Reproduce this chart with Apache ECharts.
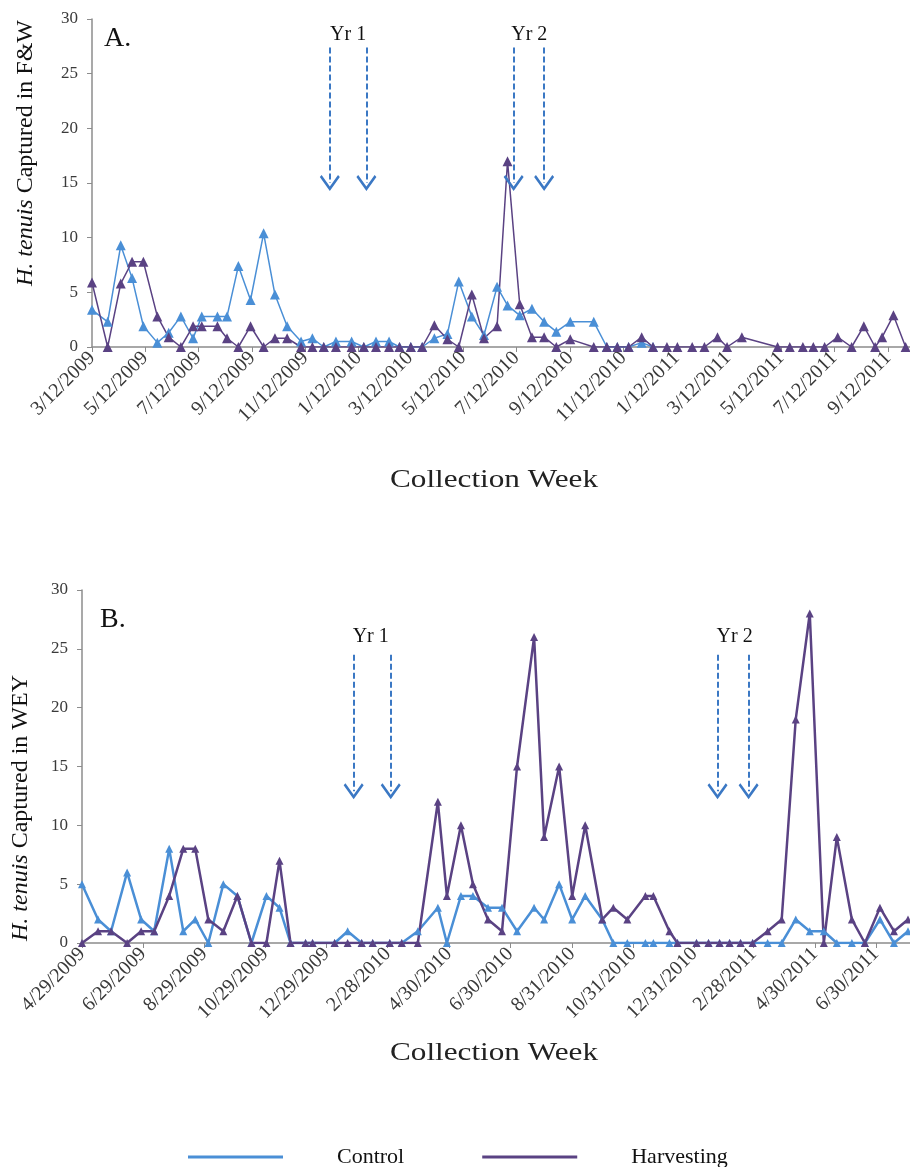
<!DOCTYPE html>
<html><head><meta charset="utf-8">
<script src="https://cdn.jsdelivr.net/npm/echarts@6/dist/echarts.min.js"></script>
<style>html,body{margin:0;padding:0;background:#fff}#c{width:910px;height:1167px}</style>
</head><body><div id="c"></div>
<script>
// ---------- Panel A (F&W) ----------
const datesA = ['2009-03-12','2009-03-30','2009-04-14','2009-04-27','2009-05-10','2009-05-26','2009-06-08','2009-06-22','2009-07-06','2009-07-16','2009-08-03','2009-08-14','2009-08-27','2009-09-10','2009-09-25','2009-10-08','2009-10-22','2009-11-07','2009-11-20','2009-12-03','2009-12-17','2010-01-04','2010-01-18','2010-02-01','2010-02-16','2010-02-28','2010-03-13','2010-03-26','2010-04-09','2010-04-24','2010-05-07','2010-05-22','2010-06-05','2010-06-20','2010-07-02','2010-07-16','2010-07-30','2010-08-13','2010-08-27','2010-09-12','2010-10-09','2010-10-24','2010-11-05','2010-11-18','2010-12-03','2010-12-16','2011-01-01','2011-01-13','2011-01-30','2011-02-13','2011-02-28','2011-03-11','2011-03-28','2011-05-08','2011-05-22','2011-06-06','2011-06-18','2011-07-01','2011-07-16','2011-08-01','2011-08-15','2011-08-28','2011-09-05','2011-09-18','2011-10-02'];
const controlA = [3.4,2.3,9.3,6.3,1.9,0.4,1.3,2.8,0.8,2.8,2.8,2.8,7.4,4.3,10.4,4.8,1.9,0.5,0.8,0,0.5,0.5,0,0.5,0.5,0,0,0,0.8,1.2,6,2.8,1.1,5.5,3.8,2.9,3.5,2.3,1.4,2.3,2.3,0,0,0,0.4,0];
const harvestA = [5.9,0,5.8,7.8,7.8,2.8,0.9,0,1.9,1.9,1.9,0.8,0,1.9,0,0.8,0.8,0,0,0,0,0,0,0,0,0,0,0,2,0.7,0,4.8,0.8,1.9,17,3.9,0.9,0.9,0,0.7,0,0,0,0,0.9,0,0,0,0,0,0.9,0,0.9,0,0,0,0,0,0.9,0,1.9,0,0.9,2.9,0];
const tickLabelsA = ['3/12/2009','5/12/2009','7/12/2009','9/12/2009','11/12/2009','1/12/2010','3/12/2010','5/12/2010','7/12/2010','9/12/2010','11/12/2010','1/12/2011','3/12/2011','5/12/2011','7/12/2011','9/12/2011'];
const rangeA = ['2009-03-12','2011-10-07'];
const arrowsA = ['2009-12-10','2010-01-21','2010-07-09','2010-08-13'];
const yrLabelsA = [['Yr 1','2009-12-31'],['Yr 2','2010-07-27']];

// ---------- Panel B (WEY) ----------
const datesB = ['2009-04-29','2009-05-15','2009-05-28','2009-06-13','2009-06-27','2009-07-10','2009-07-25','2009-08-08','2009-08-20','2009-09-02','2009-09-17','2009-10-01','2009-10-15','2009-10-30','2009-11-12','2009-11-23','2009-12-08','2009-12-15','2010-01-06','2010-01-19','2010-02-02','2010-02-13','2010-03-02','2010-03-14','2010-03-30','2010-04-19','2010-04-28','2010-05-12','2010-05-24','2010-06-08','2010-06-22','2010-07-07','2010-07-24','2010-08-03','2010-08-18','2010-08-31','2010-09-13','2010-09-30','2010-10-11','2010-10-25','2010-11-12','2010-11-20','2010-12-06','2010-12-14','2011-01-02','2011-01-14','2011-01-25','2011-02-04','2011-02-15','2011-02-27','2011-03-14','2011-03-28','2011-04-11','2011-04-25','2011-05-09','2011-05-22','2011-06-06','2011-06-19','2011-07-04','2011-07-18','2011-08-01'];
const controlB = [5,2,1,6,2,1,8,1,2,0,5,4,0,4,3,0,0,0,0,1,0,0,0,0,1,3,0,4,4,3,3,1,3,2,5,2,4,2,0,0,0,0,0,0,0,0,0,0,0,0,0,0,2,1,1,0,0,0,2,0,1];
const harvestB = [0,1,1,0,1,1,4,8,8,2,1,4,0,0,7,0,0,0,0,0,0,0,0,0,0,12,4,10,5,2,1,15,26,9,15,4,10,2,3,2,4,4,1,0,0,0,0,0,0,0,1,2,19,28,0,9,2,0,3,1,2];
const tickLabelsB = ['4/29/2009','6/29/2009','8/29/2009','10/29/2009','12/29/2009','2/28/2010','4/30/2010','6/30/2010','8/31/2010','10/31/2010','12/31/2010','2/28/2011','4/30/2011','6/30/2011'];
const rangeB = ['2009-04-29','2011-08-03'];
const arrowsB = ['2010-01-25','2010-03-03','2011-01-23','2011-02-23'];
const yrLabelsB = [['Yr 1','2010-02-11'],['Yr 2','2011-02-09']];

const seriesNames = ['Control','Harvesting'];

// ---------- helpers ----------
function tIso(s){const p=s.split('-').map(Number);return new Date(p[0],p[1]-1,p[2]).getTime();}
function tUS(s){const p=s.split('/').map(Number);return new Date(p[2],p[0]-1,p[1]).getTime();}
function fmt(v){const d=new Date(v);return (d.getMonth()+1)+'/'+d.getDate()+'/'+d.getFullYear();}
function pairs(dates, vals){return vals.map((v,i)=>[tIso(dates[i]), v]);}

const C_BLUE='#4A8FD6', C_PURP='#5A4283', ARROW='#3B78C4';
const SERIF='"Liberation Serif","DejaVu Serif",serif';
const CHEVRON='path://M10,0 L20,11 L18.2,12.6 L10,3.6 L1.8,12.6 L0,11 Z';

function arrowLines(dates, yTop, yTip){
  return dates.map(d=>[{coord:[tIso(d),yTop]},{coord:[tIso(d),yTip]}]);
}
function yrPoints(list, y){
  return list.map(([txt,d])=>({coord:[tIso(d),y], value:txt}));
}

function xAxis(gi, range, labels){
  const vals = labels.map(tUS);
  return {
    type:'value', gridIndex:gi, min:tIso(range[0]), max:tIso(range[1]),
    splitLine:{show:false},
    axisLine:{show:true, onZero:false, lineStyle:{color:'#8c8c8c', width:1.5}},
    axisTick:{show:true, customValues: vals, length:5, lineStyle:{color:'#8c8c8c'}},
    axisLabel:{customValues: vals, rotate:45, formatter: fmt, color:'#3a3a3a',
      fontFamily:SERIF, fontSize:20, margin:8}
  };
}
function yAxis(gi){
  return {
    type:'value', gridIndex:gi, min:0, max:30, interval:5,
    splitLine:{show:false},
    axisLine:{show:true, lineStyle:{color:'#8c8c8c', width:1.5}},
    axisTick:{show:true, length:5, lineStyle:{color:'#8c8c8c'}},
    axisLabel:{color:'#3a3a3a', fontFamily:SERIF, fontSize:17, margin:14}
  };
}
function lineSeries(name, color, xi, data, width, sym){
  return {name, type:'line', xAxisIndex:xi, yAxisIndex:xi, data,
    symbol:'triangle', symbolSize:sym, showSymbol:true,
    lineStyle:{color, width}, itemStyle:{color}, animation:false, z:3};
}
function annot(xi, arrows, yTop, yTip, yrs, yText){
  return {type:'line', xAxisIndex:xi, yAxisIndex:xi, data:[], silent:true, animation:false,
    markLine:{silent:true, symbol:['none', CHEVRON], symbolSize:[20,16],
      lineStyle:{type:[6,3], color:ARROW, width:2},
      label:{show:false}, data: arrowLines(arrows, yTop, yTip)},
    markPoint:{silent:true, symbol:'rect', symbolSize:1, itemStyle:{color:'rgba(0,0,0,0)'},
      label:{show:true, position:'inside', formatter:p=>p.value, color:'#111', fontFamily:SERIF, fontSize:20},
      data: yrPoints(yrs, yText)}
  };
}
function yTitle(x, y, tail){
  return {type:'text', x, y, rotation:Math.PI/2,
    style:{text:'{i|H. tenuis} Captured in '+tail, align:'center', verticalAlign:'middle',
      font:'24px '+SERIF, fill:'#111', rich:{i:{fontStyle:'italic', fontFamily:SERIF, fontSize:24}}}};
}
function xTitle(y){
  return {type:'text', x:494, y, scaleX:1.2, style:{text:'Collection Week', align:'center', verticalAlign:'middle', font:'26px '+SERIF, fill:'#222'}};
}

const chart = echarts.init(document.getElementById('c'), null, {renderer:'canvas'});
chart.setOption({
  backgroundColor:'#fff',
  animation:false,
  grid:[
    {left:92, top:19, right:0, height:328, outerBoundsMode:'none'},
    {left:82, top:590, right:0, height:353, outerBoundsMode:'none'}
  ],
  xAxis:[xAxis(0, rangeA, tickLabelsA), xAxis(1, rangeB, tickLabelsB)],
  yAxis:[yAxis(0), yAxis(1)],
  legend:{data:seriesNames, top:1141, left:183, icon:'rect', itemWidth:95, itemHeight:3, itemGap:78,
    textStyle:{fontFamily:SERIF, fontSize:22, color:'#111', padding:[0,0,0,49]}},
  graphic:[
    {type:'text', left:104, top:25, style:{text:'A.', font:'28px '+SERIF, fill:'#111'}},
    {type:'text', left:100, top:606, style:{text:'B.', font:'28px '+SERIF, fill:'#111'}},
    yTitle(26, 153, 'F&W'),
    yTitle(21, 808, 'WEY'),
    xTitle(480),
    xTitle(1053)
  ],
  series:[
    lineSeries('Control', C_BLUE, 0, pairs(datesA, controlA), 1.5, 10),
    lineSeries('Harvesting', C_PURP, 0, pairs(datesA, harvestA), 1.5, 10),
    lineSeries('Control', C_BLUE, 1, pairs(datesB, controlB), 2.5, 8),
    lineSeries('Harvesting', C_PURP, 1, pairs(datesB, harvestB), 2.5, 8),
    annot(0, arrowsA, 27.4, 15, yrLabelsA, 28.6),
    annot(1, arrowsB, 24.5, 12.9, yrLabelsB, 26)
  ]
});
</script></body></html>
